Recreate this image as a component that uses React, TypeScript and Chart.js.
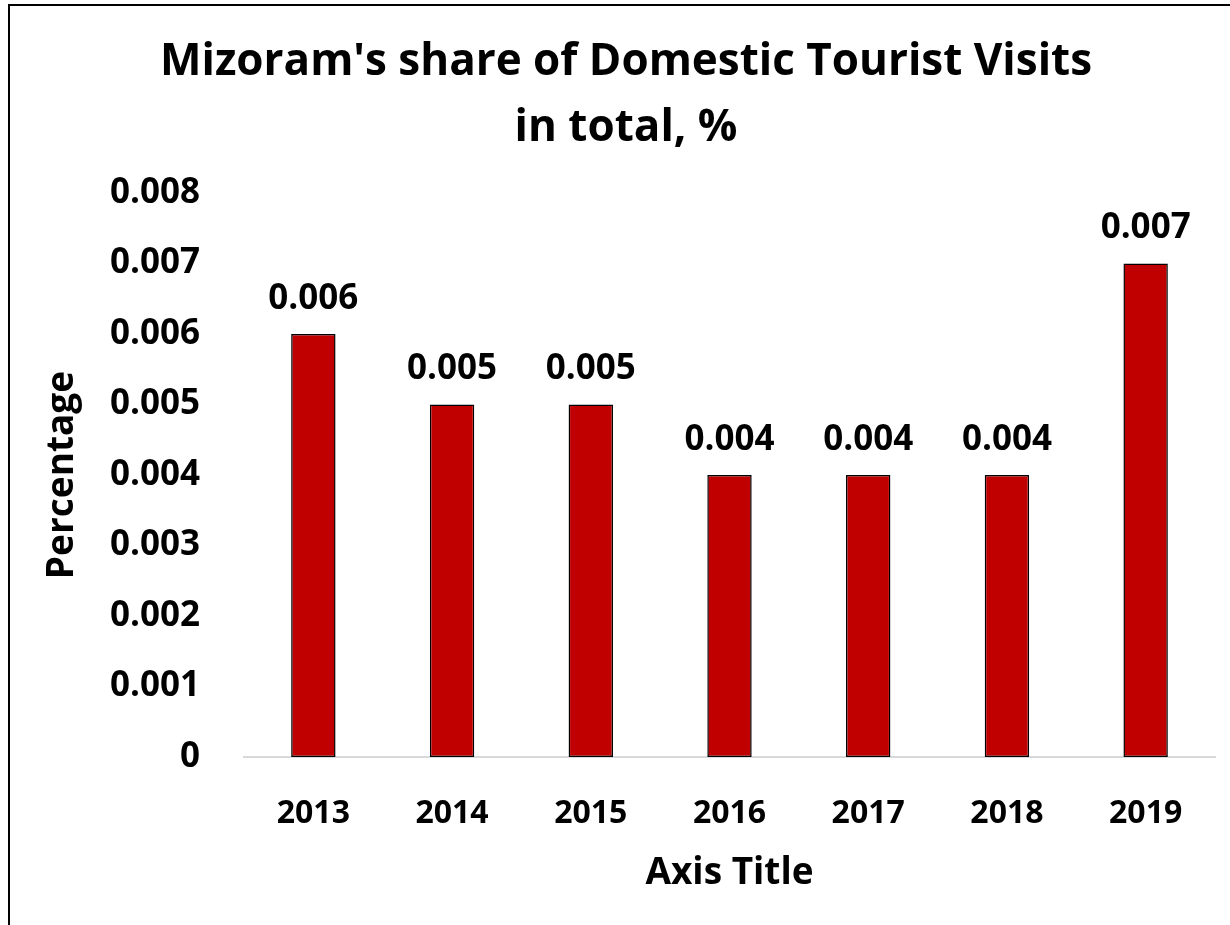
import React, { useEffect, useRef } from "react";
import { Chart, registerables } from "chart.js";

Chart.register(...registerables);

const categories = ["2013", "2014", "2015", "2016", "2017", "2018", "2019"];
const shareValues = [0.006, 0.005, 0.005, 0.004, 0.004, 0.004, 0.007];
const titleLines = ["Mizoram's share of Domestic Tourist Visits", "in total, %"];
const yAxisTitle = "Percentage";
const xAxisTitle = "Axis Title";
const yMin = 0;
const yMax = 0.008;
const yStep = 0.001;

const FONT = "'Open Sans', Lato, sans-serif";

const fmt = (v: number) => (v === 0 ? "0" : v.toFixed(3));

const dataLabelPlugin = {
  id: "dataLabels",
  afterDatasetsDraw(chart: any) {
    const ctx = chart.ctx;
    ctx.save();
    ctx.font = `bold 35px ${FONT}`;
    ctx.fillStyle = "#000";
    ctx.textAlign = "center";
    ctx.textBaseline = "middle";
    chart.data.datasets.forEach((ds: any, i: number) => {
      const meta = chart.getDatasetMeta(i);
      meta.data.forEach((bar: any, j: number) => {
        ctx.fillText(fmt(ds.data[j]), bar.x, bar.y - 35);
      });
    });
    ctx.restore();
  },
};

export default function App() {
  const ref = useRef<HTMLCanvasElement | null>(null);
  useEffect(() => {
    if (!ref.current) return;
    const chart = new Chart(ref.current, {
      type: "bar",
      data: {
        labels: categories,
        datasets: [
          {
            data: shareValues,
            backgroundColor: "#C00000",
            borderColor: "#000000",
            borderWidth: 1.5,
            borderSkipped: false,
            categoryPercentage: 1,
            barPercentage: 0.32,
          },
        ],
      },
      options: {
        animation: false,
        responsive: false,
        maintainAspectRatio: false,
        layout: { padding: { left: 37, right: 15, top: 0, bottom: 0 } },
        plugins: {
          legend: { display: false },
          tooltip: { enabled: false },
          title: {
            display: true,
            text: titleLines,
            color: "#000",
            font: { family: FONT, size: 44, weight: "bold", lineHeight: 1.5 },
            padding: { top: 29, bottom: 32 },
          },
        },
        scales: {
          x: {
            grid: { display: false, drawTicks: false },
            border: { display: true, color: "#d9d9d9", width: 2 },
            ticks: {
              color: "#000",
              font: { family: FONT, size: 32, weight: "bold" },
              padding: 38,
              maxRotation: 0,
            },
            title: {
              display: true,
              text: xAxisTitle,
              color: "#000",
              font: { family: FONT, size: 37, weight: "bold" },
              padding: { top: 0, bottom: 29 },
            },
            afterFit(scale: any) {
              scale.height = 925 - 757;
            },
          },
          y: {
            min: yMin,
            max: yMax,
            grid: { display: false, drawTicks: false },
            border: { display: false },
            ticks: {
              stepSize: yStep,
              color: "#000",
              font: { family: FONT, size: 35, weight: "bold" },
              padding: 44,
              callback: (v: any) => fmt(Number(v)),
            },
            title: {
              display: true,
              text: yAxisTitle,
              color: "#000",
              font: { family: FONT, size: 37, weight: "bold" },
              padding: { top: 3, bottom: 0 },
            },
            afterFit(scale: any) {
              scale.width = 244 - 37;
            },
          },
        },
      },
      plugins: [dataLabelPlugin],
    } as any);
    return () => chart.destroy();
  }, []);

  return (
    <div
      style={{
        position: "fixed",
        left: 0,
        top: 0,
        width: 1230,
        height: 925,
        overflow: "hidden",
        background: "#fff",
      }}
    >
      <div
        style={{
          position: "absolute",
          left: 8,
          top: 4,
          width: 1240,
          height: 940,
          borderLeft: "2px solid #000",
          borderTop: "2px solid #000",
        }}
      />
      <canvas
        ref={ref}
        width={1230}
        height={925}
        style={{ position: "absolute", left: 0, top: 0, width: 1230, height: 925 }}
      />
    </div>
  );
}
